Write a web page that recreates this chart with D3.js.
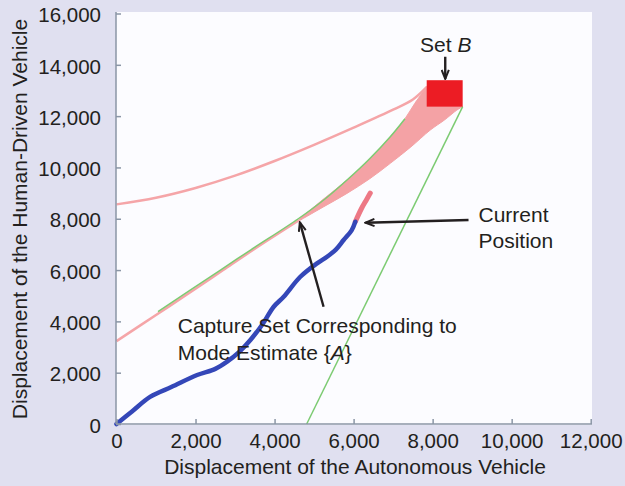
<!DOCTYPE html>
<meta charset="utf-8">
<script src="https://d3js.org/d3.v7.min.js"></script>
<style>
  body { margin: 0; background: #e0e0f0; }
  text { font-family: "Liberation Sans", Arial, sans-serif; fill: #231f20; }
</style>
<svg id="chart" width="625" height="486"></svg>
<script>

// axis ticks
var xTicks = [0, 2000, 4000, 6000, 8000, 10000, 12000]
var yTicks = [0, 2000, 4000, 6000, 8000, 10000, 12000, 14000, 16000]

// upper boundary curve (light red)
var upperCurve = [[0,8560],[1000,8820],[2000,9200],[3000,9680],[4000,10250],[5000,10880],
  [6000,11550],[7000,12250],[7500,12650],[7860,13150]]

// lower boundary line (light red)
var lowerLine = [[0,3230],[1000,4250],[2000,5270],[2700,6000],[3500,6830],[4600,7920]]

// capture set band: upper and lower edges
var bandUpper = [[4600,7950],[5200,8720],[5833,9509],[6400,10300],[6928,11197],[7300,11900],
  [7550,12500],[7860,13150]]
var bandLower = [[4600,7900],[5200,8430],[5833,8989],[6400,9550],[6928,10160],[7450,10800],
  [7940,11457],[8300,11850],[8614,12237],[8760,12370]]

// green lines
var greenA = [[1050,4380],[2630,6000],[3400,6790],[4600,8000],[5300,8800],[5833,9509],
  [6400,10330],[6928,11197],[7300,11900]]
var greenB = [[4813,0],[8760,12370]]

// set B box
var setB = {x0: 7850, x1: 8760, y0: 12370, y1: 13400}

// vehicle trajectory (blue) and predicted tail (red)
var trajectory = [[0,0],[400,500],[860,1064],[1400,1450],[2040,1910],[2500,2150],[2799,2428],
  [3100,2800],[3388,3274],[3700,3900],[3978,4571],[4231,4961],[4652,5740],[5075,6263],
  [5328,6520],[5550,6800],[5748,7171],[5950,7550],[6043,7884]]
var tail = [[6043,7884],[6200,8400],[6330,8750],[6422,9000]]

// annotation arrows [from, to]
var arrows = [
  [[8319,14314],[8319,13450]],
  [[8908,7950],[6300,7845]],
  [[5240,4570],[4640,7860]]
]

// annotation labels
var labels = [
  {x: 8331, y: 14509, anchor: "middle", parts: [["Set ", "normal"], ["B", "italic"]]},
  {x: 9161, y: 7860, anchor: "start", parts: [["Current", "normal"]]},
  {x: 9161, y: 6871, anchor: "start", parts: [["Position", "normal"]]},
  {x: 1550, y: 3535, anchor: "start", parts: [["Capture Set Corresponding to", "normal"]]},
  {x: 1550, y: 2494, anchor: "start", parts: [["Mode Estimate {", "normal"], ["A", "italic"], ["}", "normal"]]}
]

var svg = d3.select("#chart")

var x = d3.scaleLinear().domain([0, 12000]).range([116.5, 590.7])
var y = d3.scaleLinear().domain([0, 16000]).range([424, 13.5])

// plot area
svg.append("rect")
  .attr("x", 116).attr("y", 12)
  .attr("width", 592 - 116).attr("height", 425 - 12)
  .attr("fill", "#fcfcff")

var line = d3.line().x(d => x(d[0])).y(d => y(d[1]))
var smooth = d3.line().x(d => x(d[0])).y(d => y(d[1])).curve(d3.curveCatmullRom)

// band
svg.append("path")
  .attr("d", smooth(bandUpper) + "L" + smooth(bandLower.slice().reverse()).slice(1) + "Z")
  .attr("fill", "#f4a2a5")
  .attr("stroke", "#f4a2a5")
  .attr("stroke-width", 1)

// boundary curves
svg.append("path")
  .attr("d", smooth(upperCurve))
  .attr("fill", "none").attr("stroke", "#f5a5a8").attr("stroke-width", 2.5)
svg.append("path")
  .attr("d", smooth(lowerLine))
  .attr("fill", "none").attr("stroke", "#f5a5a8").attr("stroke-width", 2.5)

// green lines
svg.append("path")
  .attr("d", smooth(greenA))
  .attr("fill", "none").attr("stroke", "#7ccb72").attr("stroke-width", 1.5)
svg.append("path")
  .attr("d", line(greenB))
  .attr("fill", "none").attr("stroke", "#7ccb72").attr("stroke-width", 1.5)

// set B
svg.append("rect")
  .attr("x", x(setB.x0)).attr("y", y(setB.y1))
  .attr("width", x(setB.x1) - x(setB.x0))
  .attr("height", y(setB.y0) - y(setB.y1))
  .attr("fill", "#ec1c24")

// trajectory
svg.append("path")
  .attr("d", smooth(tail))
  .attr("fill", "none").attr("stroke", "#ea6070").attr("stroke-width", 5)
  .attr("stroke-linecap", "round").attr("opacity", 0.85)
svg.append("path")
  .attr("d", smooth(trajectory))
  .attr("fill", "none").attr("stroke", "#3447b8").attr("stroke-width", 4.5)
  .attr("stroke-linecap", "round")

// axes
var xAxis = d3.axisBottom(x).tickValues(xTicks).tickFormat(d3.format(","))
  .tickSizeInner(-5).tickSizeOuter(0).tickPadding(9)
var yAxis = d3.axisLeft(y).tickValues(yTicks).tickFormat(d3.format(","))
  .tickSizeInner(-5).tickSizeOuter(0).tickPadding(15)

var gx = svg.append("g").attr("transform", "translate(0,424)").call(xAxis)
var gy = svg.append("g").attr("transform", "translate(116,0)").call(yAxis)

gx.select(".domain").attr("d", "M116,0H592")
gy.select(".domain").attr("d", "M0,12V424")
svg.selectAll(".domain").attr("stroke", "#8b96a6").attr("stroke-width", 1.5)
svg.selectAll(".tick line").attr("stroke", "#8b96a6").attr("stroke-width", 1.5)
svg.selectAll(".tick text")
  .style("font-size", "20.5px").style("font-family", "'Liberation Sans', Arial, sans-serif")
  .attr("fill", "#231f20")
gy.selectAll(".tick text").attr("dy", "0.4em")

// axis titles
svg.append("text")
  .attr("x", 355).attr("y", 474)
  .attr("text-anchor", "middle")
  .style("font-size", "21px")
  .text("Displacement of the Autonomous Vehicle")
svg.append("text")
  .attr("transform", "translate(27,219) rotate(-90)")
  .attr("text-anchor", "middle")
  .style("font-size", "21px")
  .text("Displacement of the Human-Driven Vehicle")

// arrows
svg.append("defs").append("marker")
  .attr("id", "head")
  .attr("viewBox", "0 -5 12 10")
  .attr("refX", 11).attr("refY", 0)
  .attr("markerWidth", 11).attr("markerHeight", 9)
  .attr("markerUnits", "userSpaceOnUse")
  .attr("orient", "auto")
  .append("path")
    .attr("d", "M1,-4L11,0L1,4")
    .attr("fill", "none").attr("stroke", "#231f20").attr("stroke-width", 2.2)
    .attr("stroke-linejoin", "miter")

svg.selectAll("line.arrow")
  .data(arrows)
  .enter()
  .append("line")
    .attr("class", "arrow")
    .attr("x1", d => x(d[0][0])).attr("y1", d => y(d[0][1]))
    .attr("x2", d => x(d[1][0])).attr("y2", d => y(d[1][1]))
    .attr("stroke", "#231f20").attr("stroke-width", 2.4)
    .attr("marker-end", "url(#head)")

// labels
var lab = svg.selectAll("text.label")
  .data(labels)
  .enter()
  .append("text")
    .attr("class", "label")
    .attr("x", d => x(d.x)).attr("y", d => y(d.y))
    .attr("text-anchor", d => d.anchor)
    .style("font-size", "21px")

lab.selectAll("tspan")
  .data(d => d.parts)
  .enter()
  .append("tspan")
    .style("font-style", d => d[1])
    .text(d => d[0])

</script>
